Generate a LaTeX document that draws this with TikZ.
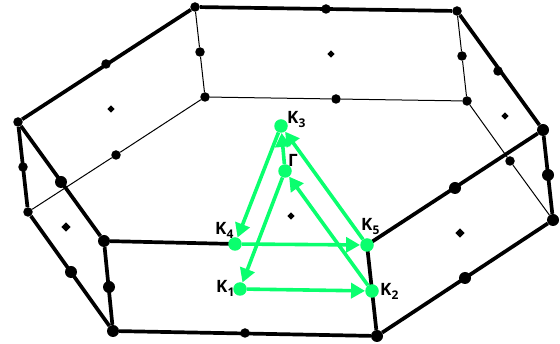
\documentclass[tikz,border=0pt]{standalone}
\usepackage{fontspec}
\setmainfont{Open Sans}
\usetikzlibrary{arrows.meta,shapes.geometric}
\definecolor{grn}{RGB}{10,255,110}
\newcommand{\ksub}[1]{K\kern0.2pt\raisebox{-3.5pt}{\fontsize{12}{12}\selectfont #1}}
\tikzset{
  x=1pt,y=-1pt,
  bigdot/.style={circle,fill=black,inner sep=0pt,minimum size=12pt},
  middot/.style={circle,fill=black,inner sep=0pt,minimum size=9.5pt},
  facedot/.style={diamond,fill=black,inner sep=0pt,minimum size=9.5pt},
  smallface/.style={diamond,fill=black,inner sep=0pt,minimum size=7.5pt},
  thickedge/.style={line width=3.7pt,black},
  thinedge/.style={line width=1pt,black},
  gdot/.style={circle,fill=grn,inner sep=0pt,minimum size=13.5pt},
  garrow/.style={line width=3.6pt,grn,-{Triangle[length=14pt,width=15pt]}},
  lab/.style={font=\fontsize{17}{17}\selectfont\bfseries,inner sep=0pt,text=black},
}
\begin{document}
\begin{tikzpicture}
\useasboundingbox (0,0) rectangle (560,344);
% corners
\node[middot] (A) at (18,122) {};
\node[middot] (B) at (195,7) {};
\node[middot] (C) at (457,11) {};
\node[bigdot] (D) at (543,130) {};
\coordinate (E) at (367,245);
\node[bigdot] (F) at (104,241) {};
\node[middot] (Ab) at (28,212) {};
\node[middot] (Bb) at (205,97) {};
\node[middot] (Cb) at (467,101) {};
\node[bigdot] (Db) at (553,220) {};
\node[bigdot] (Eb) at (377,336) {};
\node[bigdot] (Fb) at (113,331) {};
% edge midpoints
\node[middot] (m1) at (106,64) {};
\node[middot] (m2) at (326,9) {};
\node[middot] (m3) at (498,71) {};
\node[bigdot] (m4) at (455,188) {};
\node[bigdot] (m5) at (61,182) {};
\node[middot] (m6) at (116,155) {};
\node[middot] (m7) at (336,99) {};
\node[middot] (m8) at (510,161) {};
\node[bigdot] (m9) at (465,278) {};
\node[middot] (m10) at (245,333) {};
\node[bigdot] (m11) at (71,272) {};
\node[middot] (v1) at (23,167) {};
\node[middot] (v2) at (200,52) {};
\node[middot] (v3) at (462,56) {};
\node[bigdot] (v4) at (548,175) {};
\node[bigdot] (v5) at (109,287) {};
% face centres
\node[smallface] (f1) at (331,54) {};
\node[smallface] (f2) at (111,109) {};
\node[facedot] (f3) at (66,227) {};
\node[smallface] (f4) at (505,116) {};
\node[facedot] (f5) at (460,233) {};
\node[smallface] (f6) at (291,216) {};
% hidden edges
\draw[thinedge] (Ab)--(m6)--(Bb);
\draw[thinedge] (Bb)--(m7)--(Cb);
\draw[thinedge] (Cb)--(m8)--(Db);
\draw[thinedge] (B)--(v2)--(Bb);
\draw[thinedge] (C)--(v3)--(Cb);
\coordinate (K4c) at (235,244);
% visible edges
\draw[thickedge] (A)--(B);
\draw[thickedge] (B)--(C);
\draw[thickedge] (C)--(D);
\draw[thickedge] (D)--(E);
\draw[thickedge] (F)--(A);
\draw[thickedge] (F)--(K4c);
\draw[thickedge] (A)--(Ab);
\draw[thickedge] (D)--(Db);
\draw[thickedge] (F)--(Fb);
\draw[thickedge] (E)--(Eb);
\draw[thickedge] (Ab)--(Fb);
\draw[thickedge] (Fb)--(Eb);
\draw[thickedge] (Eb)--(Db);
% Brillouin path
\node[gdot] (K3) at (281,126) {};
\node[gdot] (G) at (285,171) {};
\node[gdot] (K4) at (235,244) {};
\node[gdot] (K5) at (367,245) {};
\node[gdot] (K1) at (240,289) {};
\node[gdot] (K2) at (372,291) {};
\draw[garrow] (G)--(K3);
\draw[garrow] (K3)--(K4);
\draw[garrow] (K4)--(K5);
\draw[garrow] (K5)--(K3);
\draw[garrow] (G)--(K1);
\draw[garrow] (K1)--(K2);
\draw[garrow] (K2)--(G);
% labels
\node[lab,anchor=base west] (l3) at (287,124) {\ksub{3}};
\node[lab,anchor=base west] (lG) at (288,167) {Γ};
\node[lab,anchor=base west] (l4) at (215,235) {\ksub{4}};
\node[lab,anchor=base west] (l5) at (361,231) {\ksub{5}};
\node[lab,anchor=base west] (l1) at (216,293) {\ksub{1}};
\node[lab,anchor=base west] (l2) at (380,296) {\ksub{2}};
\end{tikzpicture}
\end{document}
